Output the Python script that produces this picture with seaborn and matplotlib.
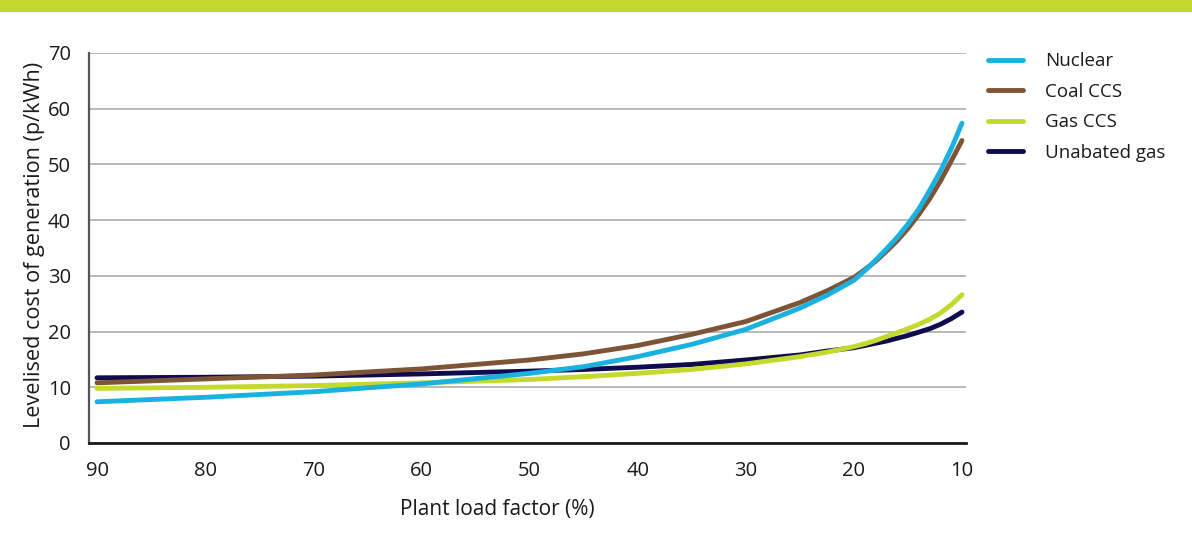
import matplotlib
matplotlib.use("Agg")
import matplotlib.pyplot as plt
import seaborn as sns
import pandas as pd
from matplotlib.patches import Rectangle
from matplotlib.lines import Line2D

# ---- data ----
load_factor = [90, 80, 70, 60, 50, 45, 40, 35, 30, 25, 22.5, 20, 19, 18, 17, 16, 15, 14, 13, 12, 11, 10]
nuclear   = [7.4, 8.2, 9.2, 10.6, 12.5, 13.7, 15.5, 17.7, 20.4, 24.2, 26.5, 29.2, 30.9, 32.8, 34.8, 36.9, 39.3, 42.0, 45.3, 48.8, 52.8, 57.4]
coal_ccs  = [10.8, 11.5, 12.2, 13.3, 14.9, 16.0, 17.5, 19.5, 21.8, 25.2, 27.3, 29.7, 31.1, 32.6, 34.4, 36.3, 38.5, 41.0, 43.8, 47.0, 50.6, 54.3]
gas_ccs   = [9.8, 10.0, 10.3, 10.8, 11.4, 11.9, 12.5, 13.2, 14.2, 15.5, 16.3, 17.3, 17.8, 18.4, 19.1, 19.8, 20.5, 21.3, 22.2, 23.3, 24.8, 26.6]
unabated  = [11.7, 11.8, 12.0, 12.4, 12.9, 13.2, 13.6, 14.1, 14.9, 15.8, 16.5, 17.1, 17.5, 17.9, 18.3, 18.8, 19.3, 19.9, 20.5, 21.3, 22.3, 23.5]

series_names = ["Nuclear", "Coal CCS", "Gas CCS", "Unabated gas"]
series_vals = [nuclear, coal_ccs, gas_ccs, unabated]
colors = {"Nuclear": "#19b2e0", "Coal CCS": "#7e5437",
          "Gas CCS": "#c4d92e", "Unabated gas": "#0f0b4f"}
zorders = {"Nuclear": 6, "Coal CCS": 5, "Gas CCS": 4, "Unabated gas": 3}

rows = []
for name, vals in zip(series_names, series_vals):
    for x, v in zip(load_factor, vals):
        rows.append({"lf": x, "cost": v, "series": name})
df = pd.DataFrame(rows)

sns.set_theme(style="white")
plt.rcParams["font.family"] = ["Open Sans", "DejaVu Sans"]

fig = plt.figure(figsize=(11.92, 5.33), dpi=100)
ax = fig.add_axes([89/1192, 1 - 443/533, (966 - 89)/1192, (443 - 53)/533])

for name in series_names:
    sub = df[df["series"] == name]
    sns.lineplot(data=sub, x="lf", y="cost", ax=ax, color=colors[name],
                 lw=3.5, solid_capstyle="round", solid_joinstyle="round",
                 zorder=zorders[name], legend=False, sort=False)

ax.set_xlim(90.74, 9.63)
ax.set_ylim(0, 70)
ax.set_xticks([90, 80, 70, 60, 50, 40, 30, 20, 10])
ax.set_yticks(range(0, 71, 10))
ax.yaxis.grid(True, color="#b3b3b3", lw=1.3)
ax.xaxis.grid(False)
ax.set_axisbelow(True)
for s in ["top", "right"]:
    ax.spines[s].set_visible(False)
ax.spines["left"].set_color("#555555")
ax.spines["left"].set_linewidth(1.6)
ax.spines["bottom"].set_color("#1a1a1a")
ax.spines["bottom"].set_linewidth(2.0)
ax.tick_params(axis="both", length=0, labelsize=14.5, colors="#1a1a1a")
ax.tick_params(axis="x", pad=13)
ax.tick_params(axis="y", pad=13)
ax.set_xlabel("Plant load factor (%)", fontsize=15, color="#1a1a1a")
ax.set_ylabel("Levelised cost of generation (p/kWh)", fontsize=15.6, color="#1a1a1a")
ax.xaxis.set_label_coords((497 - 89) / (966 - 89), -(499 - 443) / (443 - 53))
ax.yaxis.set_label_coords(-(89 - 45) / (966 - 89), (443 - 245) / (443 - 53))

handles = [Line2D([0], [0], color=colors[n], lw=3.5, solid_capstyle="round") for n in series_names]
fig.legend(handles, series_names, loc="upper left", bbox_to_anchor=(980/1192, 1 - 45/533),
           frameon=False, fontsize=13.5, handlelength=1.9, handletextpad=1.15,
           labelspacing=0.66, borderaxespad=0, labelcolor="#1a1a1a")

fig.patches.append(Rectangle((0, 1 - 11/533), 1, 11/533, transform=fig.transFigure,
                             color="#c4d92e", zorder=10))

fig.savefig("out.png", dpi=100)
